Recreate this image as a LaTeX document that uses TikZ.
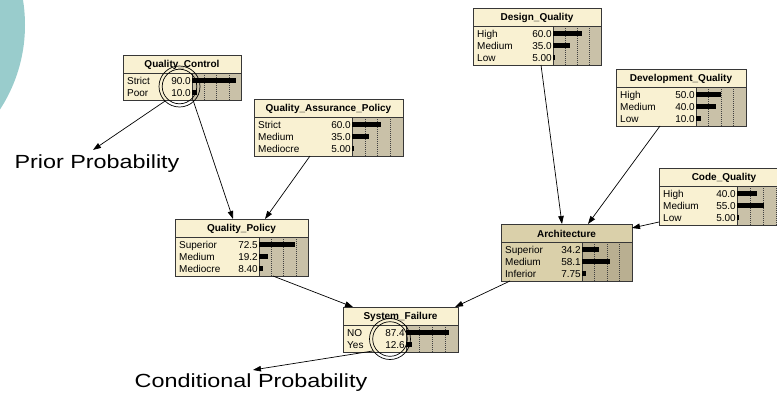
\documentclass[tikz,border=0pt]{standalone}
\usepackage{fontspec}
\usepackage{graphicx}
\setmainfont{Liberation Sans}
\usetikzlibrary{arrows.meta}

\definecolor{plainfill}{RGB}{249,241,210}
\definecolor{plainbar}{RGB}{201,193,168}
\definecolor{selfill}{RGB}{218,208,170}
\definecolor{selbar}{RGB}{185,175,145}
\definecolor{bnedge}{RGB}{55,55,55}
\definecolor{blob}{RGB}{153,204,204}

\tikzset{
  bnframe/.style={draw=bnedge, line width=0.7pt, inner sep=0pt, outer sep=0pt},
  bntitle/.style={font=\fontsize{10}{12}\selectfont\bfseries, inner sep=0pt},
  bntext/.style={font=\fontsize{10}{12}\selectfont, inner sep=0pt},
  bngrid/.style={line width=0.5pt, draw=black!75, dash pattern=on 1pt off 1pt},
  link/.style={line width=0.7pt, -{Triangle[length=8pt,width=5.5pt]}},
  ring/.style={circle, draw, line width=0.7pt, inner sep=0pt, minimum size=41pt},
  caption/.style={inner sep=0pt, font=\fontsize{19}{22}\selectfont},
}

% #1 colour set (plain/sel), #2 name, #3 left, #4 top, #5 width,
% #6 x where the bar area begins, #7 number of states, #8 title,
% #9 states as label/value/percent
\newcommand{\bnbox}[9]{%
  \pgfmathsetmacro{\bnh}{18+#7*12+3}%
  \pgfmathsetmacro{\bnbot}{#4+\bnh}%
  \pgfmathsetmacro{\bnright}{#3+#5}%
  \node[bnframe, fill=#1fill, anchor=north west, minimum width=#5pt,
        minimum height=\bnh pt] (#2) at (#3,#4) {};
  \fill[#1bar] (#6,#4+18) rectangle (\bnright,\bnbot);
  \foreach \k in {1,2,3}
    \draw[bngrid] ({#6+\k*(\bnright-#6)/4},#4+18) -- ({#6+\k*(\bnright-#6)/4},\bnbot);
  \draw[draw=bnedge, line width=0.7pt] (#3,#4+18) -- (\bnright,#4+18);
  \draw[draw=bnedge, line width=0.7pt] (#6,#4+18) -- (#6,\bnbot);
  \draw[bnframe] (#2.north west) rectangle (#2.south east);
  \node[bntitle] (#2-t) at ({#3+#5/2},{#4+9.5}) {#8};
  \foreach \lab/\val/\p [count=\r] in {#9} {
    \pgfmathsetmacro{\ry}{#4+18+1.5+(\r-0.5)*12}
    \node[bntext, anchor=base west] (#2-l\r) at (#3+4,\ry+3.6) {\lab};
    \node[bntext, anchor=base east] (#2-v\r) at (#6-1,\ry+3.6) {\val};
    \fill (#6,\ry-2.6) rectangle ({#6+0.49*\p},\ry+2.6);
  }
}

\begin{document}
\begin{tikzpicture}[x=1pt, y=-1pt]
\useasboundingbox (0,0) rectangle (777,394);

% decorative disc at the left edge
\fill[blob] (-130,25) circle[radius=155pt];

% network nodes
\bnbox{plain}{qc}{123}{55}{118}{192}{2}{Quality\_Control}
  {Strict/90.0/90, Poor/10.0/10}
\bnbox{plain}{qap}{254}{99}{149}{352}{3}{Quality\_Assurance\_Policy}
  {Strict/60.0/60, Medium/35.0/35, Mediocre/5.00/5}
\bnbox{plain}{qp}{175}{219}{133}{259}{3}{Quality\_Policy}
  {Superior/72.5/72.5, Medium/19.2/19.2, Mediocre/8.40/8.4}
\bnbox{plain}{sf}{343}{307}{115}{406}{2}{System\_Failure}
  {NO/87.4/87.4, Yes/12.6/12.6}
\bnbox{plain}{dq}{473}{8}{128}{553}{3}{Design\_Quality}
  {High/60.0/60, Medium/35.0/35, Low/5.00/5}
\bnbox{plain}{dev}{616}{69}{130}{696}{3}{Development\_Quality}
  {High/50.0/50, Medium/40.0/40, Low/10.0/10}
\bnbox{plain}{code}{659}{168}{130}{737}{3}{Code\_Quality}
  {High/40.0/40, Medium/55.0/55, Low/5.00/5}
\bnbox{sel}{arch}{501}{224}{131}{582}{3}{Architecture}
  {Superior/34.2/34.2, Medium/58.1/58.1, Inferior/7.75/7.75}

% dependencies
\draw[link] ([xshift=11pt]qc.south) -- ([xshift=-8.5pt]qp.north);
\draw[link] ([xshift=-18.5pt]qap.south) -- ([xshift=23.5pt]qp.north);
\draw[link] ([xshift=31.5pt]qp.south) -- ([xshift=10pt]sf.north west);
\draw[link] ([xshift=9pt]arch.south west) -- ([xshift=-3pt]sf.north east);
\draw[link] ([xshift=4pt]dq.south) -- ([xshift=-4.5pt]arch.north);
\draw[link] ([xshift=-21pt]dev.south) -- ([xshift=21.5pt]arch.north);
\draw[link] ([yshift=3pt]code.south west) -- ([yshift=-4pt]arch.north east);

% highlighted probabilities
\node[ring] (qcring) at (179.5,86.5) {};
\draw[line width=0.7pt] (qcring.center) circle[radius=17.3pt];
\node[ring] (sfring) at (390,339) {};
\draw[line width=0.7pt] (sfring.center) circle[radius=17.3pt];

% annotations
\node[caption] (prior) at (97,164) {\scalebox{1.23}[1]{Prior Probability}};
\node[caption] (cond) at (251,383) {\scalebox{1.23}[1]{Conditional Probability}};
\draw[link] (qcring.225) -- ([xshift=-4pt,yshift=5pt]prior.north);
\draw[link] (sfring.215) -- ([xshift=2pt,yshift=4pt]cond.north);
\end{tikzpicture}
\end{document}
